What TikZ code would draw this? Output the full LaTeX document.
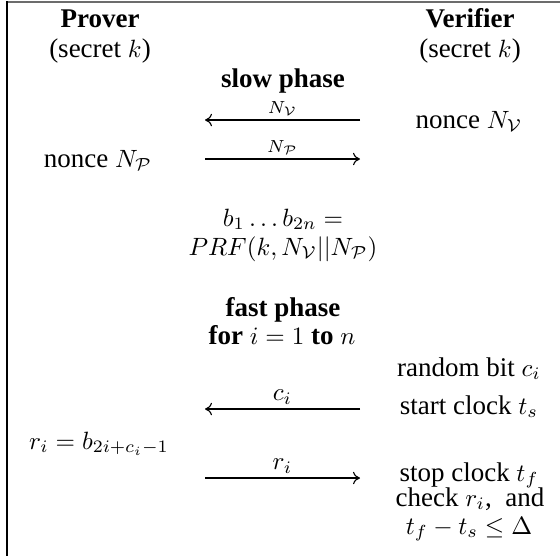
\documentclass[tikz,border=0pt]{standalone}
\usepackage{fontspec}
\setmainfont{Liberation Serif}[Scale=1.08]
\usetikzlibrary{arrows.meta}
\begin{document}
\begin{tikzpicture}[x=0.4pt,y=-0.4pt,
  txt/.style={anchor=base,inner sep=0pt,font=\fontsize{10}{12}\selectfont},
  msg/.style={-{Computer Modern Rightarrow[length=2.8pt,width=5pt,line width=0.45pt]},line width=0.45pt},
  lab/.style={above,inner sep=1.5pt,font=\fontsize{10}{12}\selectfont}]
\useasboundingbox (0,0) rectangle (560,556);
\draw[gray!85!black,line width=0.8pt] (6,2) -- (560,2);
\draw[black,line width=0.6pt] (7,1) -- (7,556);
% headers
\node[txt] (prov) at (100,27) {\textbf{Prover}};
\node[txt] (provs) at (100,57) {(secret $k$)};
\node[txt] (ver) at (470,27) {\textbf{Verifier}};
\node[txt] (vers) at (470,57) {(secret $k$)};
% slow phase
\node[txt] (slow) at (283,87) {\textbf{slow phase}};
\coordinate (a1l) at (205,120); \coordinate (a1r) at (360,120);
\draw[msg] (a1r) -- node[lab]{$\scriptstyle N_{\mathcal V}$} (a1l);
\node[txt] (nv) at (469,128) {nonce $N_{\mathcal V}$};
\coordinate (a2l) at (205,159); \coordinate (a2r) at (360,159);
\draw[msg] (a2l) -- node[lab]{$\scriptstyle N_{\mathcal P}$} (a2r);
\node[txt] (np) at (98,167) {nonce $N_{\mathcal P}$};
\node[txt] (prf1) at (283,226) {$b_1\ldots b_{2n} =$};
\node[txt] (prf2) at (283,255) {$PRF(k, N_{\mathcal V}||N_{\mathcal P})$};
% fast phase
\node[txt] (fast) at (283,316) {\textbf{fast phase}};
\node[txt] (loop) at (282,344) {\textbf{for} $i=1$ \textbf{to} $n$};
\node[txt] (rb) at (469,376) {random bit $c_i$};
\coordinate (a3l) at (205,409); \coordinate (a3r) at (360,409);
\draw[msg] (a3r) -- node[lab]{$c_i$} (a3l);
\node[txt] (sc) at (469,414) {start clock $t_s$};
\node[txt] (ri) at (99,449) {$r_i = b_{2i+c_i-1}$};
\coordinate (a4l) at (205,478); \coordinate (a4r) at (360,478);
\draw[msg] (a4l) -- node[lab]{$r_i$} (a4r);
\node[txt] (stc) at (469,481) {stop clock $t_f$};
\node[txt] (chk) at (470,506) {check $r_i$,\ \ and};
\node[txt] (dl) at (469,534) {$t_f - t_s \le \Delta$};
\end{tikzpicture}
\end{document}
